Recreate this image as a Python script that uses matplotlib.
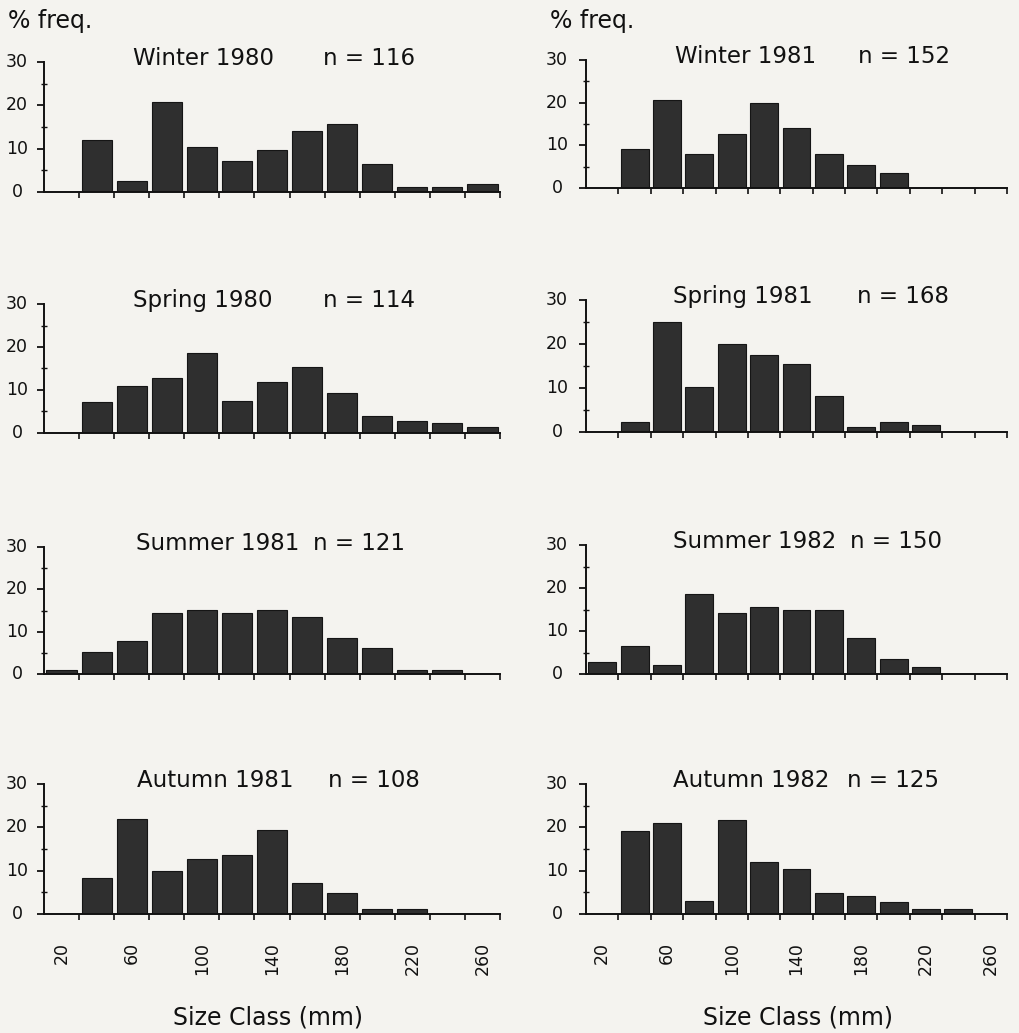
import matplotlib
matplotlib.use('Agg')
import matplotlib.pyplot as plt
from matplotlib.ticker import FixedLocator, NullFormatter

plt.rcParams['font.family'] = ['DejaVu Sans']

# ---------------- data ----------------
size_classes = [20, 40, 60, 80, 100, 120, 140, 160, 180, 200, 220, 240, 260]
tick_labels = [20, 60, 100, 140, 180, 220, 260]
y_ticks = [0, 10, 20, 30]

winter_1980 = [0, 12.0, 2.6, 20.8, 10.5, 7.2, 9.7, 14.0, 15.7, 6.4, 1.2, 1.2, 1.9]
spring_1980 = [0, 7.3, 10.9, 12.8, 18.7, 7.5, 11.9, 15.4, 9.2, 4.0, 2.9, 2.3, 1.5]
summer_1981 = [1.0, 5.1, 7.7, 14.3, 15.2, 14.3, 15.2, 13.4, 8.4, 6.1, 1.0, 1.0, 0]
autumn_1981 = [0, 8.3, 21.9, 10.0, 12.8, 13.7, 19.3, 7.2, 4.9, 1.1, 1.1, 0, 0]
winter_1981 = [0, 9.2, 20.6, 8.0, 12.7, 19.9, 14.0, 8.0, 5.4, 3.5, 0, 0, 0]
spring_1981 = [0, 2.2, 25.1, 10.3, 20.0, 17.5, 15.4, 8.2, 1.1, 2.2, 1.5, 0, 0]
summer_1982 = [2.9, 6.4, 2.2, 18.5, 14.2, 15.6, 14.8, 14.8, 8.3, 3.6, 1.6, 0, 0]
autumn_1982 = [0, 19.1, 21.0, 3.1, 21.6, 11.9, 10.4, 4.8, 4.2, 2.7, 1.2, 1.2, 0]

seasons_left = ['Winter 1980', 'Spring 1980', 'Summer 1981', 'Autumn 1981']
n_left = [116, 114, 121, 108]
values_left = [winter_1980, spring_1980, summer_1981, autumn_1981]

seasons_right = ['Winter 1981', 'Spring 1981', 'Summer 1982', 'Autumn 1982']
n_right = [152, 168, 150, 125]
values_right = [winter_1981, spring_1981, summer_1982, autumn_1982]

# ---------------- layout (pixels) ----------------
W, H = 1020, 1033
bg = '#f4f3ef'
fig = plt.figure(figsize=(W / 100, H / 100), dpi=100, facecolor=bg)

cols = [
    dict(x0=44, x1=500, rows=[(192, 62), (433, 304), (674, 547), (914, 784)],
         season_x=[133, 133, 136, 137], n_x=[323, 323, 313, 328],
         seasons=seasons_left, ns=n_left, vals=values_left, label_cx=17),
    dict(x0=586, x1=1007, rows=[(188, 60), (432, 300), (674, 545), (914, 784)],
         season_x=[675, 673, 673, 673], n_x=[858, 857, 850, 847],
         seasons=seasons_right, ns=n_right, vals=values_right, label_cx=557),
]

bar_color = '#2f2f2f'
edge_color = '#151515'
txt = '#111111'
title_fs = 16.5

for ci, col in enumerate(cols):
    for ri, (yb, yt) in enumerate(col['rows']):
        left = col['x0'] / W
        width = (col['x1'] - col['x0']) / W
        bottom = 1 - yb / H
        height = (yb - yt) / H
        ax = fig.add_axes([left, bottom, width, height])
        ax.set_facecolor('none')
        ax.bar(size_classes, col['vals'][ri], width=17.2, color=bar_color,
               edgecolor=edge_color, linewidth=0.8, zorder=2)
        ax.set_xlim(10, 270)
        ax.set_ylim(0, 30)
        for s in ['top', 'right']:
            ax.spines[s].set_visible(False)
        for s in ['left', 'bottom']:
            ax.spines[s].set_linewidth(1.4)
            ax.spines[s].set_color(txt)
            ax.spines[s].set_zorder(3)
        # y ticks
        ax.set_yticks(y_ticks)
        ax.yaxis.set_minor_locator(FixedLocator([5, 15, 25]))
        ax.tick_params(axis='y', which='major', direction='out', length=5,
                       width=1.3, color=txt, labelleft=False)
        ax.tick_params(axis='y', which='minor', direction='inout', length=4,
                       width=1.0, color=txt)
        # y tick labels, centred as in the original
        for v in y_ticks:
            ypix = yb - (yb - yt) * v / 30
            fig.text(col['label_cx'] / W, 1 - ypix / H, str(v), ha='center',
                     va='center', fontsize=12.5, color=txt)
        # x ticks: boundaries as minor ticks, labels at every other class
        ax.xaxis.set_minor_locator(FixedLocator(list(range(30, 271, 20))))
        ax.xaxis.set_minor_formatter(NullFormatter())
        ax.set_xticks(tick_labels)
        ax.tick_params(axis='x', which='minor', direction='out', length=4,
                       width=1.2, color=txt)
        if ri == 3:
            ax.set_xticklabels([str(t) for t in tick_labels], rotation=90,
                               fontsize=12.5, color=txt, va='top')
            ax.tick_params(axis='x', which='major', length=0, pad=20)
        else:
            ax.tick_params(axis='x', which='major', length=0, labelbottom=False)
        # titles
        base_y = 1 - (yt + 3) / H
        fig.text(col['season_x'][ri] / W, base_y, col['seasons'][ri],
                 ha='left', va='baseline', fontsize=title_fs, color=txt)
        fig.text(col['n_x'][ri] / W, base_y, 'n = %d' % col['ns'][ri],
                 ha='left', va='baseline', fontsize=title_fs, color=txt)

# "% freq." labels
fig.text(8 / W, 1 - 28 / H, '% freq.', ha='left', va='baseline',
         fontsize=17, color=txt)
fig.text(550 / W, 1 - 28 / H, '% freq.', ha='left', va='baseline',
         fontsize=17, color=txt)

# x axis titles
fig.text(268 / W, 1 - 1024 / H, 'Size Class (mm)', ha='center', va='baseline',
         fontsize=17, color=txt)
fig.text(798 / W, 1 - 1024 / H, 'Size Class (mm)', ha='center', va='baseline',
         fontsize=17, color=txt)

fig.savefig('out.png', dpi=100, facecolor=bg)
